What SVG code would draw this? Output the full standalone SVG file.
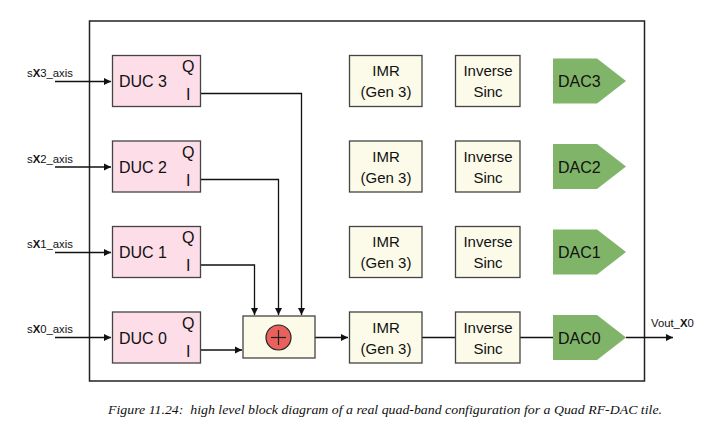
<svg xmlns="http://www.w3.org/2000/svg" width="716" height="438" viewBox="0 0 716 438">
<defs>
<marker id="ah" markerWidth="8" markerHeight="8" refX="7" refY="4" orient="auto" markerUnits="userSpaceOnUse">
<path d="M0,0.5 L7,4 L0,7.5 Z" fill="#111"/>
</marker>
<style>
.duc{fill:#fddde8;stroke:#444;stroke-width:1.3}
.blk{fill:#fcfbe9;stroke:#444;stroke-width:1.3}
.dac{fill:#80b468;stroke:none}
.t{font-family:"Liberation Sans",Arial,sans-serif;fill:#111}
.big{font-size:16px}
.mid{font-size:15px}
.lbl{font-size:11.3px}
.ln{stroke:#111;stroke-width:1.3;fill:none}
</style>
</defs>
<rect width="716" height="438" fill="#fff"/>
<rect id="frame" x="89.5" y="21" width="555" height="360" fill="none" stroke="#222" stroke-width="1.5"/>

<g id="connectors">
<line class="ln" x1="55" y1="81.5" x2="111" y2="81.5" marker-end="url(#ah)"/>
<line class="ln" x1="55" y1="167" x2="111" y2="167" marker-end="url(#ah)"/>
<line class="ln" x1="55" y1="252.5" x2="111" y2="252.5" marker-end="url(#ah)"/>
<line class="ln" x1="55" y1="337.5" x2="111" y2="337.5" marker-end="url(#ah)"/>
<polyline class="ln" points="201,93.5 301.5,93.5 301.5,315" marker-end="url(#ah)"/>
<polyline class="ln" points="201,179.5 278.5,179.5 278.5,315" marker-end="url(#ah)"/>
<polyline class="ln" points="201,265 254.5,265 254.5,315" marker-end="url(#ah)"/>
<line class="ln" x1="201" y1="350" x2="242" y2="350" marker-end="url(#ah)"/>
<line class="ln" x1="315" y1="337.5" x2="348" y2="337.5" marker-end="url(#ah)"/>
<line class="ln" x1="422" y1="337.5" x2="455" y2="337.5"/>
<line class="ln" x1="520" y1="337.5" x2="553" y2="337.5"/>
<line class="ln" x1="626" y1="337.5" x2="673" y2="337.5" marker-end="url(#ah)"/>
</g>

<g id="in3"><text class="t lbl" x="27" y="77">s<tspan font-weight="bold">X</tspan>3_axis</text></g>
<g id="in2"><text class="t lbl" x="27" y="162.5">s<tspan font-weight="bold">X</tspan>2_axis</text></g>
<g id="in1"><text class="t lbl" x="27" y="248">s<tspan font-weight="bold">X</tspan>1_axis</text></g>
<g id="in0"><text class="t lbl" x="27" y="333">s<tspan font-weight="bold">X</tspan>0_axis</text></g>

<g id="duc3"><rect class="duc" x="112.5" y="55.5" width="88" height="51"/>
<text class="t big" x="119" y="87">DUC 3</text><text class="t big" x="182" y="72">Q</text><text class="t big" x="186" y="100">I</text></g>
<g id="duc2"><rect class="duc" x="112.5" y="141" width="88" height="51"/>
<text class="t big" x="119" y="172.5">DUC 2</text><text class="t big" x="182" y="157.5">Q</text><text class="t big" x="186" y="185.5">I</text></g>
<g id="duc1"><rect class="duc" x="112.5" y="226.5" width="88" height="51"/>
<text class="t big" x="119" y="258">DUC 1</text><text class="t big" x="182" y="243">Q</text><text class="t big" x="186" y="271">I</text></g>
<g id="duc0"><rect class="duc" x="112.5" y="312" width="88" height="51"/>
<text class="t big" x="119" y="343.5">DUC 0</text><text class="t big" x="182" y="328.5">Q</text><text class="t big" x="186" y="356.5">I</text></g>

<g id="adder"><rect class="blk" x="243" y="316" width="72" height="42"/>
<circle cx="278.5" cy="337.5" r="12.5" fill="#e8615c" stroke="#222" stroke-width="1.2"/>
<line x1="271" y1="337.5" x2="286" y2="337.5" stroke="#222" stroke-width="1.2"/>
<line x1="278.5" y1="330" x2="278.5" y2="345" stroke="#222" stroke-width="1.2"/></g>

<g id="imr3"><rect class="blk" x="349.5" y="55.5" width="72.5" height="51"/>
<text class="t mid" x="386" y="76" text-anchor="middle">IMR</text><text class="t mid" x="386" y="97" text-anchor="middle">(Gen 3)</text></g>
<g id="imr2"><rect class="blk" x="349.5" y="141" width="72.5" height="51"/>
<text class="t mid" x="386" y="161.5" text-anchor="middle">IMR</text><text class="t mid" x="386" y="182.5" text-anchor="middle">(Gen 3)</text></g>
<g id="imr1"><rect class="blk" x="349.5" y="226.5" width="72.5" height="51"/>
<text class="t mid" x="386" y="247" text-anchor="middle">IMR</text><text class="t mid" x="386" y="268" text-anchor="middle">(Gen 3)</text></g>
<g id="imr0"><rect class="blk" x="349.5" y="312" width="72.5" height="51"/>
<text class="t mid" x="386" y="332.5" text-anchor="middle">IMR</text><text class="t mid" x="386" y="353.5" text-anchor="middle">(Gen 3)</text></g>

<g id="sinc3"><rect class="blk" x="455.5" y="55.5" width="64.5" height="51"/>
<text class="t mid" x="488" y="76" text-anchor="middle">Inverse</text><text class="t mid" x="488" y="97" text-anchor="middle">Sinc</text></g>
<g id="sinc2"><rect class="blk" x="455.5" y="141" width="64.5" height="51"/>
<text class="t mid" x="488" y="161.5" text-anchor="middle">Inverse</text><text class="t mid" x="488" y="182.5" text-anchor="middle">Sinc</text></g>
<g id="sinc1"><rect class="blk" x="455.5" y="226.5" width="64.5" height="51"/>
<text class="t mid" x="488" y="247" text-anchor="middle">Inverse</text><text class="t mid" x="488" y="268" text-anchor="middle">Sinc</text></g>
<g id="sinc0"><rect class="blk" x="455.5" y="312" width="64.5" height="51"/>
<text class="t mid" x="488" y="332.5" text-anchor="middle">Inverse</text><text class="t mid" x="488" y="353.5" text-anchor="middle">Sinc</text></g>

<g id="dac3"><polygon class="dac" points="553,58.5 597,58.5 626,81 597,103.5 553,103.5"/>
<text class="t big" x="558" y="87">DAC3</text></g>
<g id="dac2"><polygon class="dac" points="553,144 597,144 626,166.5 597,189 553,189"/>
<text class="t big" x="558" y="172.5">DAC2</text></g>
<g id="dac1"><polygon class="dac" points="553,229.5 597,229.5 626,252 597,274.5 553,274.5"/>
<text class="t big" x="558" y="258">DAC1</text></g>
<g id="dac0"><polygon class="dac" points="553,315 597,315 626,337.5 597,360 553,360"/>
<text class="t big" x="558" y="343.5">DAC0</text></g>

<g id="out"><text class="t lbl" x="651" y="327">Vout_<tspan font-weight="bold">X</tspan>0</text></g>

<text x="385" y="414" text-anchor="middle" font-family="'Liberation Serif','Times New Roman',serif" font-style="italic" font-size="12.5" fill="#111" textLength="554" lengthAdjust="spacingAndGlyphs">Figure 11.24:&#160; high level block diagram of a real quad-band configuration for a Quad RF-DAC tile.</text>
</svg>
